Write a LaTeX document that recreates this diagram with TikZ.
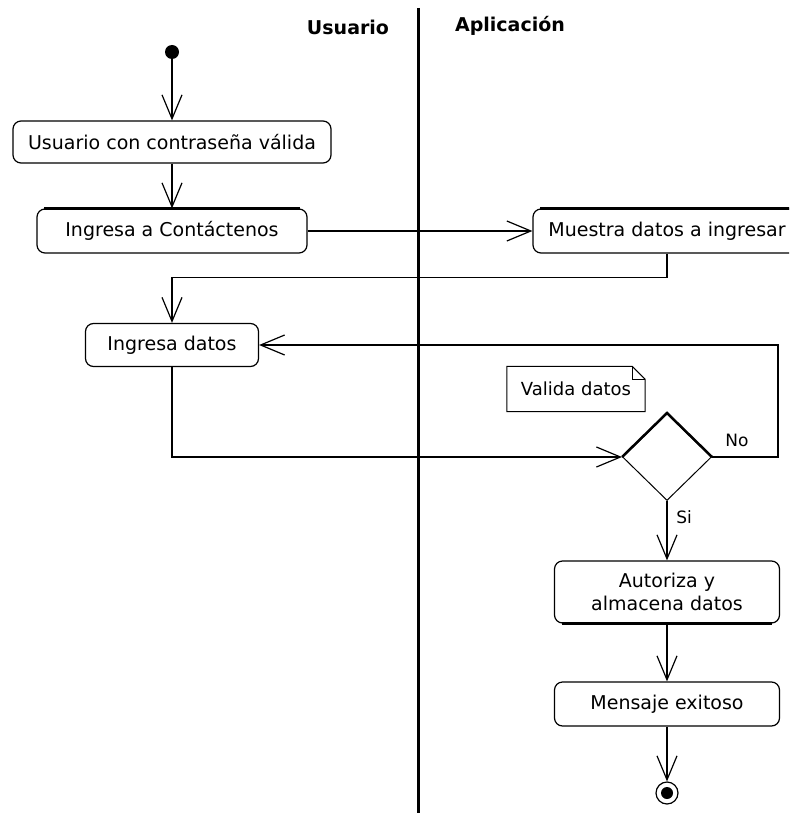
\documentclass[tikz,border=0pt]{standalone}
\usepackage{fontspec}
\setmainfont{DejaVu Sans}
\usetikzlibrary{shapes.geometric,arrows.meta}

\begin{document}
\begin{tikzpicture}[x=1pt,y=-1pt]
\tikzset{activite/.style={draw, rectangle, rounded corners=8pt, line width=1.2pt, align=center, inner sep=0pt, font=\fontsize{19}{23}\selectfont},
fleche/.style={line width=1.2pt, -{Straight Barb[length=24pt,width=20pt,line width=1.2pt]}},
titre/.style={font=\fontsize{19}{22}\selectfont\bfseries}}
\useasboundingbox (0,0) rectangle (789,813);
\clip (0,0) rectangle (789,813);
\draw[line width=3pt] (418,8) -- (418,813);
\node[titre] (T1) at (348,27) {Usuario};
\node[titre] (T2) at (510,26) {Aplicación};
\node[circle, fill, minimum size=14pt, inner sep=0pt] (S) at (172,52) {};
\node[activite, minimum width=318pt, minimum height=42pt] (A1) at (172,142) {Usuario con contraseña válida};
\node[activite, minimum width=270pt, minimum height=44pt] (A2) at (172,231) {Ingresa a Contáctenos};
\node[activite, minimum width=268pt, minimum height=44pt] (A3) at (667,231) {Muestra datos a ingresar};
\node[activite, minimum width=173pt, minimum height=43pt] (A4) at (172,345) {Ingresa datos};
\node[draw, diamond, minimum width=89pt, minimum height=87pt, inner sep=0pt, line width=1pt] (D) at (667,457) {};
\node[minimum width=138pt, minimum height=45pt, inner sep=0pt, font=\fontsize{18}{22}\selectfont] (N) at (576,389) {Valida datos};
\node[activite, minimum width=225pt, minimum height=62pt] (A5) at (667,592) {Autoriza y\\almacena datos};
\node[activite, minimum width=225pt, minimum height=44pt] (A6) at (667,704) {Mensaje exitoso};
\node[circle, draw, line width=1.2pt, minimum size=22pt, inner sep=0pt] (E) at (667,793) {};
\fill (E.center) circle (6pt);
\draw[line width=2.5pt] ([xshift=8pt]A2.north west) -- ([xshift=-8pt]A2.north east);
\draw[line width=2.5pt] ([xshift=8pt]A3.north west) -- ([xshift=-8pt]A3.north east);
\draw[line width=2.5pt] ([xshift=8pt]A5.south west) -- ([xshift=-8pt]A5.south east);
\draw[line width=2.5pt] (D.west) -- (D.north) -- (D.east);
\draw[line width=1pt] (N.north west) -- ([xshift=-13pt]N.north east) -- ([yshift=-13pt]N.north east) -- (N.south east) -- (N.south west) -- cycle;
\draw[line width=1pt] ([xshift=-13pt]N.north east) -- ([xshift=-13pt,yshift=-13pt]N.north east) -- ([yshift=-13pt]N.north east);
\draw[fleche] (S) -- (A1);
\draw[fleche] (A1) -- (A2);
\draw[fleche] (A2) -- (A3);
\draw[fleche] (A3.south) -- ++(0,24) -| (A4.north);
\draw[fleche] (A4.south) |- (D.west);
\draw[fleche] (D.east) -- ++(66,0) |- (A4.east);
\draw[fleche] (D.south) -- (A5.north);
\draw[fleche] (A5) -- (A6);
\draw[fleche] (A6) -- (E);
\node[font=\fontsize{17}{20}\selectfont] (L1) at (737,440) {No};
\node[font=\fontsize{17}{20}\selectfont] (L2) at (684,517) {Si};
\end{tikzpicture}
\end{document}
